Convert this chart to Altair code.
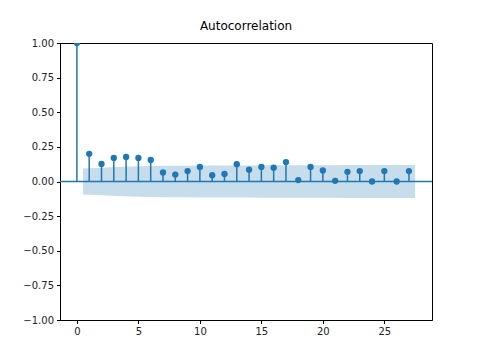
import altair as alt
import pandas as pd

lags = list(range(28))
acf = [1.0, 0.20, 0.127, 0.17, 0.177, 0.17, 0.155, 0.065, 0.05, 0.075, 0.105,
       0.045, 0.055, 0.125, 0.085, 0.105, 0.10, 0.14, 0.01, 0.105, 0.08,
       0.005, 0.07, 0.075, 0.0, 0.075, 0.0, 0.075]

band_x = [0.5] + list(range(2, 27)) + [27.5]
band_half = [0.093, 0.100, 0.104, 0.107, 0.110, 0.112, 0.113, 0.113, 0.114, 0.115,
             0.115, 0.115, 0.116, 0.116, 0.117, 0.117, 0.118, 0.118, 0.118, 0.118,
             0.118, 0.119, 0.119, 0.119, 0.119, 0.119, 0.120]

y_ticks = [-1.0, -0.75, -0.5, -0.25, 0.0, 0.25, 0.5, 0.75, 1.0]
x_ticks = [0, 5, 10, 15, 20, 25]

df = pd.DataFrame({"lag": lags, "acf": acf, "zero": [0.0] * len(lags)})
band = pd.DataFrame({"x": band_x, "hi": band_half, "lo": [-v for v in band_half]})
zero_df = pd.DataFrame({"zero": [0.0]})

C0 = "#1f77b4"
xs = alt.Scale(domain=[-1.375, 28.875], nice=False, zero=False)
ys = alt.Scale(domain=[-1, 1], nice=False)

xax = alt.Axis(values=x_ticks, title=None, grid=False, format="d", labelOverlap=False)
yax = alt.Axis(values=y_ticks, format=".2f", title=None, grid=False,
               labelOverlap=False)

area = alt.Chart(band).mark_area(color=C0, opacity=0.25).encode(
    x=alt.X("x:Q", scale=xs, axis=xax),
    y=alt.Y("hi:Q", scale=ys, axis=yax),
    y2="lo:Q",
)

hline = alt.Chart(zero_df).mark_rule(color=C0, strokeWidth=1.5).encode(
    y=alt.Y("zero:Q", scale=ys, axis=yax),
)

stems = alt.Chart(df).mark_rule(color=C0, strokeWidth=1.5).encode(
    x=alt.X("lag:Q", scale=xs, axis=xax),
    y=alt.Y("zero:Q", scale=ys, axis=yax),
    y2="acf:Q",
)

pts = alt.Chart(df).mark_circle(color=C0, opacity=1, size=40, clip=True).encode(
    x=alt.X("lag:Q", scale=xs, axis=xax),
    y=alt.Y("acf:Q", scale=ys, axis=yax),
)

chart = alt.layer(area, hline, stems, pts).properties(
    width=372, height=277,
    title=alt.TitleParams("Autocorrelation", fontSize=12, fontWeight="normal",
                          font="DejaVu Sans", color="black", offset=5),
    autosize=alt.AutoSizeParams(type="none"),
    padding={"left": 52, "top": 35, "right": 40, "bottom": 32},
).configure_view(stroke="black", strokeWidth=1).configure_axis(
    domainColor="black", tickColor="black", labelColor="#222222",
    labelFont="DejaVu Sans", labelFontSize=10, tickSize=3.5, labelPadding=3,
)

chart.save("out.html", embed_options={"renderer": "svg", "actions": False})
